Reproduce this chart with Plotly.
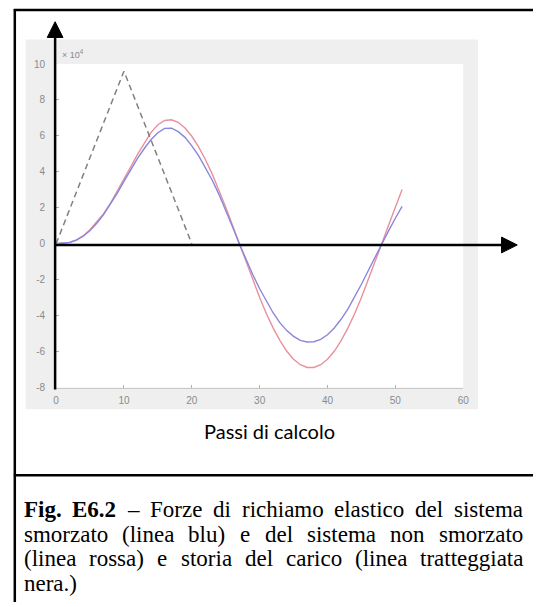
import plotly.graph_objects as go

# ---------------- data (values in units of 10^4) ----------------
steps = list(range(52))
undamped = [0.00, 0.02, 0.08, 0.22, 0.45, 0.78, 1.20, 1.68, 2.25, 2.90,
            3.58, 4.28, 4.97, 5.62, 6.20, 6.62, 6.86, 6.90, 6.76, 6.44,
            5.98, 5.39, 4.69, 3.89, 2.99, 2.03, 1.03, 0.00, -1.03, -2.03,
            -2.99, -3.89, -4.69, -5.39, -5.98, -6.42, -6.73, -6.88, -6.88, -6.73,
            -6.42, -5.98, -5.39, -4.69, -3.89, -2.99, -2.03, -1.03, 0.00, 1.03,
            2.03, 3.02]
damped = [0.00, 0.02, 0.07, 0.20, 0.42, 0.74, 1.14, 1.62, 2.18, 2.80,
          3.47, 4.13, 4.75, 5.30, 5.80, 6.18, 6.42, 6.43, 6.24, 5.92,
          5.45, 4.90, 4.25, 3.55, 2.75, 1.88, 0.95, 0.00, -0.88, -1.72,
          -2.50, -3.22, -3.85, -4.40, -4.83, -5.15, -5.37, -5.46, -5.45, -5.32,
          -5.06, -4.68, -4.20, -3.63, -2.97, -2.25, -1.50, -0.74, 0.02, 0.72,
          1.42, 2.08]
load_steps = [0, 10, 20]
load = [0.0, 9.6, 0.0]

x_ticks = [0, 10, 20, 30, 40, 50, 60]
y_ticks = [-8, -6, -4, -2, 0, 2, 4, 6, 8, 10]

x_title = "Passi di calcolo"
# caption words: (text, bold)
caption_lines = [
    [("Fig.", True), ("E6.2", True), ("–", False), ("Forze", False), ("di", False),
     ("richiamo", False), ("elastico", False), ("del", False), ("sistema", False)],
    [("smorzato", False), ("(linea", False), ("blu)", False), ("e", False), ("del", False),
     ("sistema", False), ("non", False), ("smorzato", False)],
    [("(linea", False), ("rossa)", False), ("e", False), ("storia", False), ("del", False),
     ("carico", False), ("(linea", False), ("tratteggiata", False)],
    [("nera.)", False)],
]

# ---------------- helpers ----------------
W, H = 539, 607
def X(px):
    return px / W
def Y(py):
    return 1 - py / H

# Times New Roman advance widths (1/1000 em) for text layout (justification)
TNR = {"a": 444, "b": 500, "c": 444, "d": 500, "e": 444, "f": 333, "g": 500, "h": 500,
       "i": 278, "j": 278, "k": 500, "l": 278, "m": 778, "n": 500, "o": 500, "p": 500,
       "q": 500, "r": 333, "s": 389, "t": 278, "u": 500, "v": 500, "w": 722, "x": 500,
       "y": 500, "z": 444, "(": 333, ")": 333, ".": 250, "–": 500, " ": 250, "F": 556,
       "E": 611}
TNRB = {"F": 611, "i": 278, "g": 500, ".": 250, "E": 667, "6": 500, "2": 500}
def word_w(word, bold, fs):
    tbl = TNRB if bold else TNR
    return sum(tbl.get(c, 500) for c in word) / 1000 * fs

fig = go.Figure()
fig.add_trace(go.Scatter(x=steps, y=undamped, mode="lines",
                         line=dict(color="#e8909e", width=1.4), hoverinfo="skip"))
fig.add_trace(go.Scatter(x=steps, y=damped, mode="lines",
                         line=dict(color="#8a86dc", width=1.4), hoverinfo="skip"))
fig.add_trace(go.Scatter(x=load_steps, y=load, mode="lines",
                         line=dict(color="#808080", width=1.5, dash="6px,4px"),
                         hoverinfo="skip"))

shapes = []
shapes.append(dict(type="rect", xref="paper", yref="paper", x0=X(23), x1=X(483),
                   y0=Y(411), y1=Y(35), fillcolor="#efefef", line=dict(width=0), layer="below"))
shapes.append(dict(type="rect", xref="paper", yref="paper", x0=X(54), x1=X(468),
                   y0=Y(389), y1=Y(60), fillcolor="white", line=dict(width=0), layer="below"))
for (x0, y0, x1, y1) in [(11, 5, 539, 5), (12, 4, 12, 607), (11, 478, 539, 478)]:
    shapes.append(dict(type="line", xref="paper", yref="paper", x0=X(x0), y0=Y(y0),
                       x1=X(x1), y1=Y(y1), line=dict(color="black", width=2.5)))
shapes.append(dict(type="line", xref="paper", yref="paper", x0=X(53), y0=Y(391),
                   x1=X(53), y1=Y(30), line=dict(color="black", width=2.5)))
shapes.append(dict(type="line", xref="paper", yref="paper", x0=X(52), y0=Y(244),
                   x1=X(510), y1=Y(244), line=dict(color="black", width=2.5)))
def tri(pts):
    p = "M " + " L ".join(f"{X(a):.5f},{Y(b):.5f}" for a, b in pts) + " Z"
    return dict(type="path", xref="paper", yref="paper", path=p,
                fillcolor="black", line=dict(color="black", width=1))
shapes.append(tri([(53, 17), (45, 33), (61, 33)]))
shapes.append(tri([(523, 244), (507, 236), (507, 252)]))

annotations = []
annotations.append(dict(text="× 10<sup>4</sup>", xref="paper", yref="paper",
                        x=X(58), y=Y(50), xanchor="left", yanchor="middle", showarrow=False,
                        font=dict(family="Liberation Sans", size=9, color="#8a8a8a")))
annotations.append(dict(text=x_title, xref="paper", yref="paper", x=X(271), y=Y(433),
                        xanchor="center", yanchor="middle", showarrow=False,
                        font=dict(family="Lato", size=20, color="black")))

FS = 23
LEFT, RIGHT = 20, 527
for i, words in enumerate(caption_lines):
    yv = Y(513 + 25 * i)
    widths = [word_w(w, b, FS) for w, b in words]
    if i < len(caption_lines) - 1 and len(words) > 1:
        gap = (RIGHT - LEFT - sum(widths)) / (len(words) - 1)
    else:
        gap = TNR[" "] / 1000 * FS
    xpos = LEFT
    for (w, b), ww in zip(words, widths):
        annotations.append(dict(text=f"<b>{w}</b>" if b else w, xref="paper", yref="paper",
                                x=X(xpos), y=yv, xanchor="left", yanchor="middle",
                                showarrow=False, borderpad=0,
                                font=dict(family="Liberation Serif", size=FS, color="black")))
        xpos += ww + gap

axis_common = dict(showgrid=False, zeroline=False, showline=True, linecolor="#c8c8c8",
                   ticks="inside", ticklen=3, tickcolor="#b0b0b0",
                   tickfont=dict(family="Liberation Sans", size=10, color="#8a8a8a"),
                   fixedrange=True)
fig.update_layout(
    width=W, height=H, margin=dict(l=0, r=0, t=0, b=0),
    paper_bgcolor="white", plot_bgcolor="rgba(0,0,0,0)", showlegend=False,
    xaxis=dict(domain=[X(54), X(468)], range=[0, 60], tickvals=x_ticks,
               ticktext=[str(v) for v in x_ticks], ticklabelstandoff=3, **axis_common),
    yaxis=dict(domain=[Y(389), Y(60)], range=[-8, 10], tickvals=y_ticks,
               ticktext=[str(v) for v in y_ticks], ticklabelstandoff=8, **axis_common),
    shapes=shapes, annotations=annotations,
)
fig.write_html("out.html", config={"displayModeBar": False},
               post_script="document.body.style.margin='0';")
